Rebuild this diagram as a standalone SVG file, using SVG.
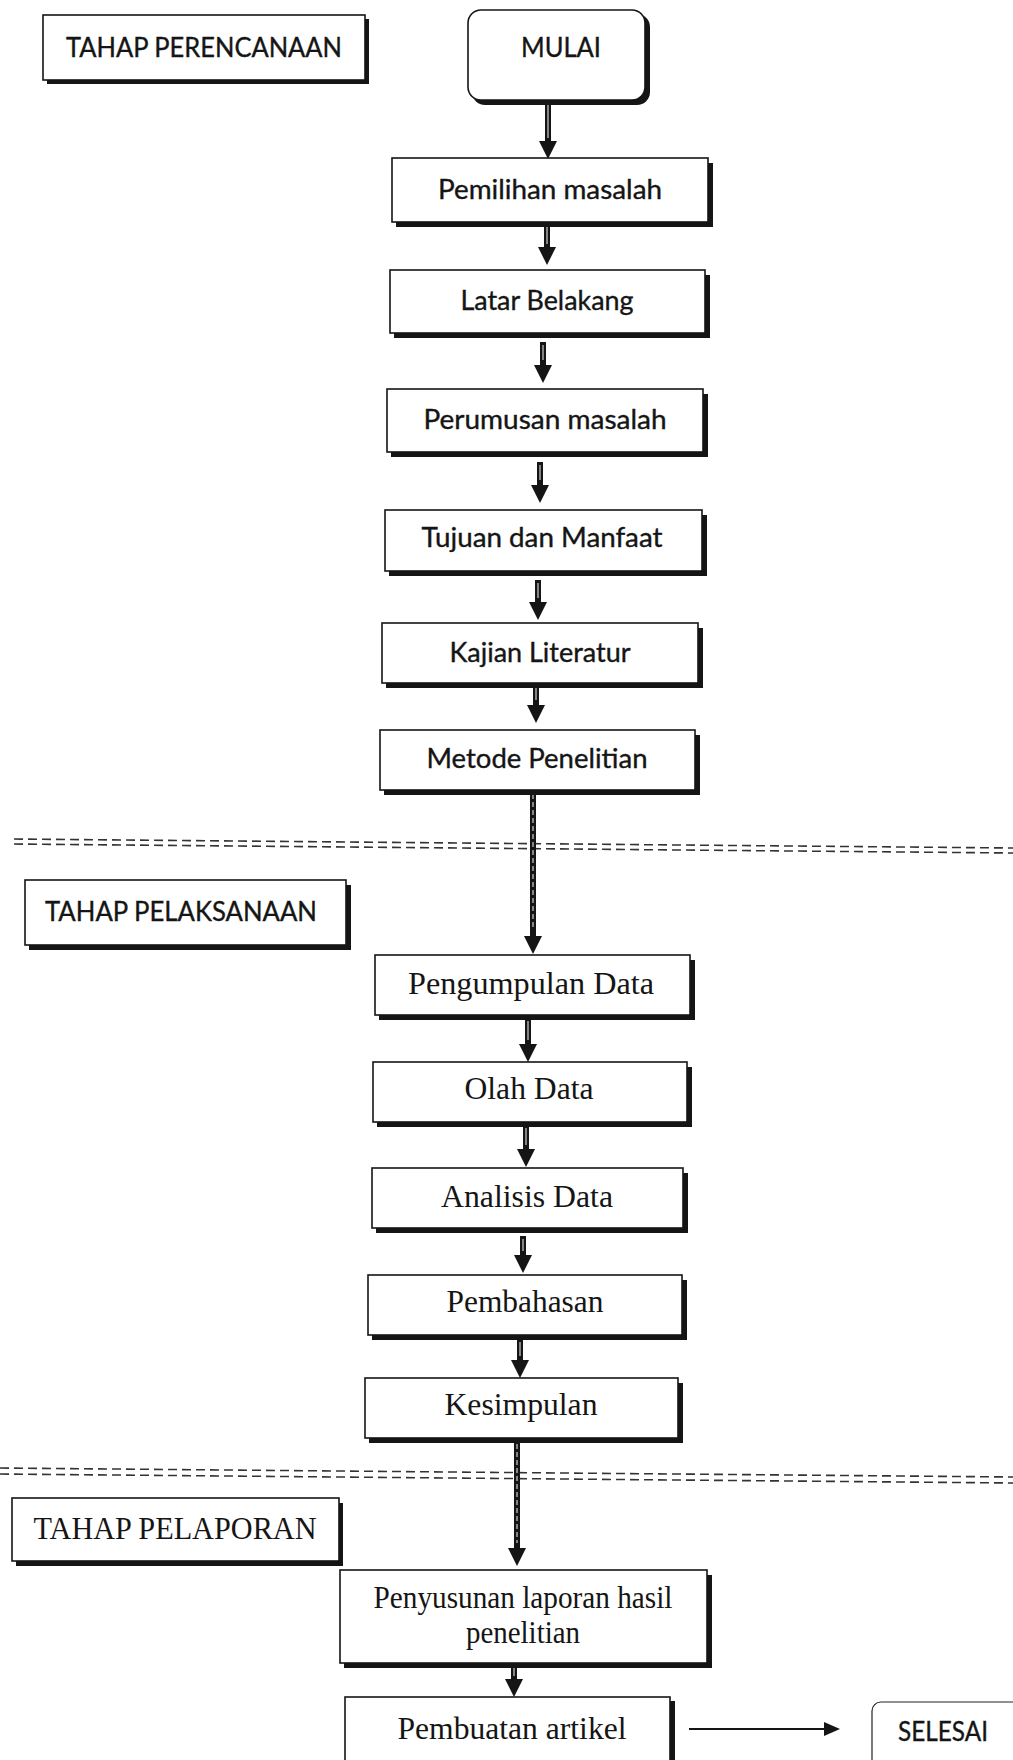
<svg xmlns="http://www.w3.org/2000/svg" width="1013" height="1760" viewBox="0 0 1013 1760">
<style>
.bg{fill:#ffffff}
.sh{fill:#151515}
.box{fill:#ffffff;stroke:#151515;stroke-width:1.6}
.thin{fill:#ffffff;stroke:#222;stroke-width:1.2}
.sans{font-family:Lato,"Open Sans",sans-serif;font-size:26px;fill:#151515;stroke:#151515;stroke-width:0.35;text-anchor:middle}
.serif{font-family:"Liberation Serif","Times New Roman",serif;font-size:31px;fill:#151515;text-anchor:middle}
.shaft{stroke:#151515;stroke-width:6;fill:none}
.core{stroke:#ffffff;stroke-width:1.2;fill:none;opacity:0.8}
.hline{stroke:#151515;stroke-width:2;fill:none}
.dash{stroke:#333;stroke-width:1.6;stroke-dasharray:9 5;fill:none}
</style>
<defs>
<marker id="ah" markerUnits="userSpaceOnUse" viewBox="0 0 18 18" markerWidth="18" markerHeight="18" refX="0" refY="9" orient="auto">
<path d="M0,0 L18,9 L0,18 Z" fill="#151515"/>
</marker>
<marker id="ahs" markerUnits="userSpaceOnUse" viewBox="0 0 16 14" markerWidth="16" markerHeight="14" refX="0" refY="7" orient="auto">
<path d="M0,0 L16,7 L0,14 Z" fill="#151515"/>
</marker>
</defs>
<rect class="bg" x="0" y="0" width="1013" height="1760"/>

<g id="dividers">
<path class="dash" d="M14,839 L1013,848"/>
<path class="dash" d="M14,844 L1013,853"/>
<path class="dash" d="M0,1468 L1013,1477"/>
<path class="dash" d="M0,1474 L1013,1483"/>
</g>

<g id="connectors">
<path class="shaft" d="M548,100 V141" marker-end="url(#ah)"/>
<path class="core" d="M548,104 V138"/>
<path class="shaft" d="M547,223 V247" marker-end="url(#ah)"/>
<path class="core" d="M547,226 V244"/>
<path class="shaft" d="M543,342 V365" marker-end="url(#ah)"/>
<path class="core" d="M543,345 V360"/>
<path class="shaft" d="M540,462 V485" marker-end="url(#ah)"/>
<path class="core" d="M540,465 V480"/>
<path class="shaft" d="M538,580 V602" marker-end="url(#ah)"/>
<path class="core" d="M538,583 V598"/>
<path class="shaft" d="M536,683 V705" marker-end="url(#ah)"/>
<path class="core" d="M536,686 V700"/>
<path class="shaft" d="M533,790 V936" marker-end="url(#ah)"/>
<path class="core" d="M533,794 V930" stroke-dasharray="5 3"/>
<path class="shaft" d="M528,1018 V1044" marker-end="url(#ah)"/>
<path class="core" d="M528,1021 V1040"/>
<path class="shaft" d="M526,1125 V1149" marker-end="url(#ah)"/>
<path class="core" d="M526,1128 V1145"/>
<path class="shaft" d="M523,1236 V1255" marker-end="url(#ah)"/>
<path class="core" d="M523,1239 V1251"/>
<path class="shaft" d="M520,1339 V1360" marker-end="url(#ah)"/>
<path class="core" d="M520,1342 V1356"/>
<path class="shaft" d="M517,1441 V1548" marker-end="url(#ah)"/>
<path class="core" d="M517,1444 V1543" stroke-dasharray="5 3"/>
<path class="shaft" d="M514,1664 V1679" marker-end="url(#ah)"/>
<path class="core" d="M514,1667 V1676"/>
<path class="hline" d="M689,1729 H824" marker-end="url(#ahs)"/>
</g>

<g id="tahap-perencanaan">
<rect class="sh" x="47" y="19" width="322" height="65"/>
<rect class="box" x="43" y="15" width="322" height="65"/>
<text class="sans" x="204" y="57" font-size="25" textLength="276" lengthAdjust="spacingAndGlyphs">TAHAP PERENCANAAN</text>
</g>

<g id="mulai">
<rect class="sh" x="472" y="14" width="178" height="91" rx="13"/>
<rect class="box" x="468" y="10" width="177" height="90" rx="13"/>
<text class="sans" x="561" y="57" font-size="25" textLength="80" lengthAdjust="spacingAndGlyphs">MULAI</text>
</g>

<g id="pemilihan-masalah">
<rect class="sh" x="396" y="163" width="317" height="64"/>
<rect class="box" x="392" y="158" width="316" height="64"/>
<text class="sans" x="550" y="199" textLength="224" lengthAdjust="spacingAndGlyphs">Pemilihan masalah</text>
</g>

<g id="latar-belakang">
<rect class="sh" x="394" y="275" width="316" height="63"/>
<rect class="box" x="390" y="270" width="315" height="63"/>
<text class="sans" x="547" y="310" textLength="173" lengthAdjust="spacingAndGlyphs">Latar Belakang</text>
</g>

<g id="perumusan-masalah">
<rect class="sh" x="391" y="394" width="317" height="63"/>
<rect class="box" x="387" y="389" width="316" height="63"/>
<text class="sans" x="545" y="429" textLength="243" lengthAdjust="spacingAndGlyphs">Perumusan masalah</text>
</g>

<g id="tujuan-dan-manfaat">
<rect class="sh" x="389" y="515" width="318" height="61"/>
<rect class="box" x="385" y="510" width="317" height="61"/>
<text class="sans" x="542" y="547" textLength="241" lengthAdjust="spacingAndGlyphs">Tujuan dan Manfaat</text>
</g>

<g id="kajian-literatur">
<rect class="sh" x="386" y="628" width="317" height="60"/>
<rect class="box" x="382" y="623" width="316" height="60"/>
<text class="sans" x="540" y="662" textLength="181" lengthAdjust="spacingAndGlyphs">Kajian Literatur</text>
</g>

<g id="metode-penelitian">
<rect class="sh" x="384" y="735" width="316" height="60"/>
<rect class="box" x="380" y="730" width="315" height="60"/>
<text class="sans" x="537" y="768" textLength="221" lengthAdjust="spacingAndGlyphs">Metode Penelitian</text>
</g>

<g id="tahap-pelaksanaan">
<rect class="sh" x="29" y="885" width="322" height="65"/>
<rect class="box" x="25" y="880" width="321" height="65"/>
<text class="sans" x="181" y="921" font-size="27" textLength="272" lengthAdjust="spacingAndGlyphs">TAHAP PELAKSANAAN</text>
</g>

<g id="pengumpulan-data">
<rect class="sh" x="379" y="960" width="316" height="60"/>
<rect class="box" x="375" y="955" width="315" height="60"/>
<text class="serif" x="531" y="994" textLength="246" lengthAdjust="spacingAndGlyphs">Pengumpulan Data</text>
</g>

<g id="olah-data">
<rect class="sh" x="377" y="1067" width="315" height="60"/>
<rect class="box" x="373" y="1062" width="314" height="60"/>
<text class="serif" x="529" y="1099" textLength="129" lengthAdjust="spacingAndGlyphs">Olah Data</text>
</g>

<g id="analisis-data">
<rect class="sh" x="376" y="1173" width="312" height="60"/>
<rect class="box" x="372" y="1168" width="311" height="60"/>
<text class="serif" x="527" y="1207" textLength="172" lengthAdjust="spacingAndGlyphs">Analisis Data</text>
</g>

<g id="pembahasan">
<rect class="sh" x="372" y="1280" width="315" height="60"/>
<rect class="box" x="368" y="1275" width="314" height="60"/>
<text class="serif" x="525" y="1312" textLength="157" lengthAdjust="spacingAndGlyphs">Pembahasan</text>
</g>

<g id="kesimpulan">
<rect class="sh" x="369" y="1383" width="314" height="60"/>
<rect class="box" x="365" y="1378" width="313" height="60"/>
<text class="serif" x="521" y="1415" textLength="153" lengthAdjust="spacingAndGlyphs">Kesimpulan</text>
</g>

<g id="tahap-pelaporan">
<rect class="sh" x="16" y="1503" width="327" height="63"/>
<rect class="box" x="12" y="1498" width="327" height="63"/>
<text class="serif" x="175" y="1539" font-size="30" textLength="283" lengthAdjust="spacingAndGlyphs">TAHAP PELAPORAN</text>
</g>

<g id="penyusunan-laporan">
<rect class="sh" x="344" y="1575" width="368" height="93"/>
<rect class="box" x="340" y="1570" width="367" height="93"/>
<text class="serif" x="523" y="1608" font-size="28" textLength="299" lengthAdjust="spacingAndGlyphs">Penyusunan laporan hasil</text>
<text class="serif" x="523" y="1643" font-size="28" textLength="114" lengthAdjust="spacingAndGlyphs">penelitian</text>
</g>

<g id="pembuatan-artikel">
<rect class="sh" x="349" y="1701" width="326" height="70"/>
<rect class="box" x="345" y="1697" width="325" height="70"/>
<text class="serif" x="512" y="1739" textLength="229" lengthAdjust="spacingAndGlyphs">Pembuatan artikel</text>
</g>

<g id="selesai">
<rect class="thin" x="872" y="1702" width="160" height="70" rx="9"/>
<text class="sans" x="943" y="1741" font-size="23" stroke-width="0" textLength="90" lengthAdjust="spacingAndGlyphs">SELESAI</text>
</g>
</svg>
